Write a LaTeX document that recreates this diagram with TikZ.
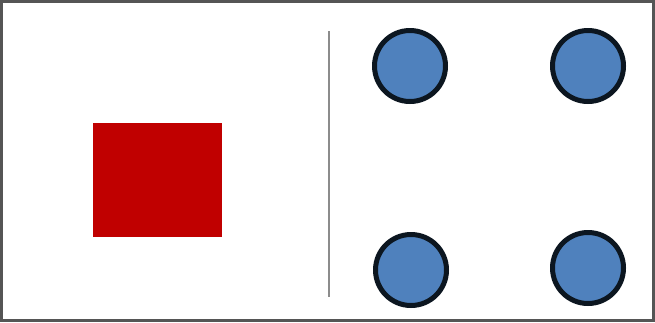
\documentclass[tikz,border=0pt]{standalone}
\definecolor{dotblue}{HTML}{4F81BD}
\definecolor{dotline}{HTML}{0C1620}
\definecolor{sqred}{HTML}{C00000}
\definecolor{frame}{HTML}{555555}
\definecolor{divider}{HTML}{8C8C8C}
\tikzset{
  dot/.style={circle, draw=dotline, fill=dotblue, line width=5pt, minimum size=71pt, inner sep=0pt},
  redsq/.style={fill=sqred, draw=none, minimum width=129pt, minimum height=114pt, inner sep=0pt},
}
\begin{document}
\begin{tikzpicture}[x=1pt,y=-1pt]
\useasboundingbox (0,0) rectangle (655,322);
\draw[frame, line width=3pt] (1.5,1.5) rectangle (653.5,320.5);
\node[redsq] (sq) at (157.5,180) {};
\coordinate (lt) at (328.5,31);
\coordinate (lb) at (328.5,297);
\draw[divider, line width=2pt] (lt) -- (lb);
\node[dot] (c1) at (410,66) {};
\node[dot] (c2) at (588,66) {};
\node[dot] (c3) at (411,270) {};
\node[dot] (c4) at (588,268) {};
\end{tikzpicture}
\end{document}
